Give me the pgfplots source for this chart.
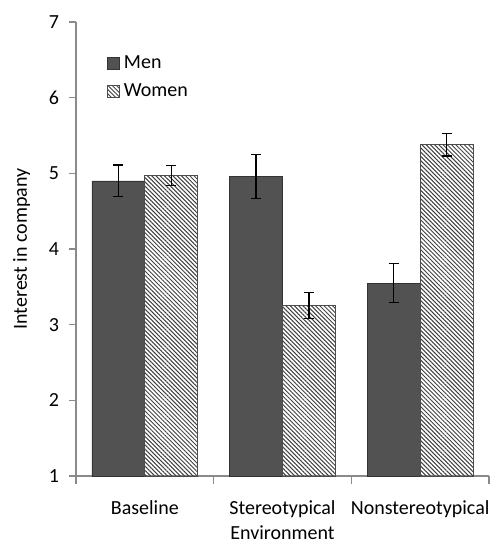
\documentclass[border=0pt]{standalone}
\usepackage{fontspec}
\setmainfont{Carlito}
\usepackage{pgfplots}
\pgfplotsset{compat=1.18}
\usetikzlibrary{patterns.meta}

\definecolor{mengray}{HTML}{525252}
\definecolor{axgray}{HTML}{8A8A8A}

\begin{document}
\begin{tikzpicture}
\begin{axis}[
    name=ax,
    scale only axis,
    width=206.5pt,
    height=227pt,
    ybar=0pt,
    bar width=0.384,
    xmin=-0.5, xmax=2.5,
    ymin=1, ymax=7,
    ytick={1,2,3,4,5,6,7},
    xtick={0,1,2},
    xticklabels={Baseline,Stereotypical,Nonstereotypical},
    minor xtick={-0.5,0.5,1.5,2.5},
    major x tick style={draw=none},
    minor tick length=4pt,
    major tick length=3.5pt,
    tick align=outside,
    axis x line*=bottom,
    axis y line*=left,
    axis line style={axgray, line width=0.8pt},
    every tick/.style={axgray, line width=0.8pt},
    y axis line style={-},
    x axis line style={-},
    xticklabel style={yshift=-5.5pt},
    yticklabel style={xshift=-1.5pt},
    xlabel={Environment},
    ylabel={Interest in company},
    xlabel style={yshift=3pt},
    ylabel style={yshift=2.5pt},
    font=\fontsize{10}{12}\selectfont,
    /pgf/number format/assume math mode=true,
    legend style={at={(0.06,0.945)}, anchor=north west, draw=none, fill=none,
        row sep=2pt, font=\fontsize{10}{12}\selectfont},
    legend cell align=left,
    legend image code/.code={\draw[#1] (0pt,-3pt) rectangle (6pt,3pt);},
    error bars/error bar style={black, line width=0.6pt},
    error bars/error mark options={rotate=90, mark size=2.5pt, line width=0.6pt},
]
\addplot[fill=mengray, draw=black!80, line width=0.4pt,
    error bars/.cd, y dir=both, y explicit]
    coordinates {(0,4.90) +- (0,0.21) (1,4.96) +- (0,0.29) (2,3.55) +- (0,0.26)};
\addlegendentry{Men}
\addplot[pattern={Lines[angle=-45,distance=1.5pt,line width=0.5pt]},
    pattern color=black!75, draw=black!70, line width=0.4pt,
    error bars/.cd, y dir=both, y explicit]
    coordinates {(0,4.97) +- (0,0.13) (1,3.25) +- (0,0.17) (2,5.38) +- (0,0.15)};
\addlegendentry{Women}
\end{axis}
\pgfresetboundingbox
\path ([xshift=-38pt,yshift=-35pt]ax.south west) rectangle ([xshift=2pt,yshift=11pt]ax.north east);
\end{tikzpicture}
\end{document}
